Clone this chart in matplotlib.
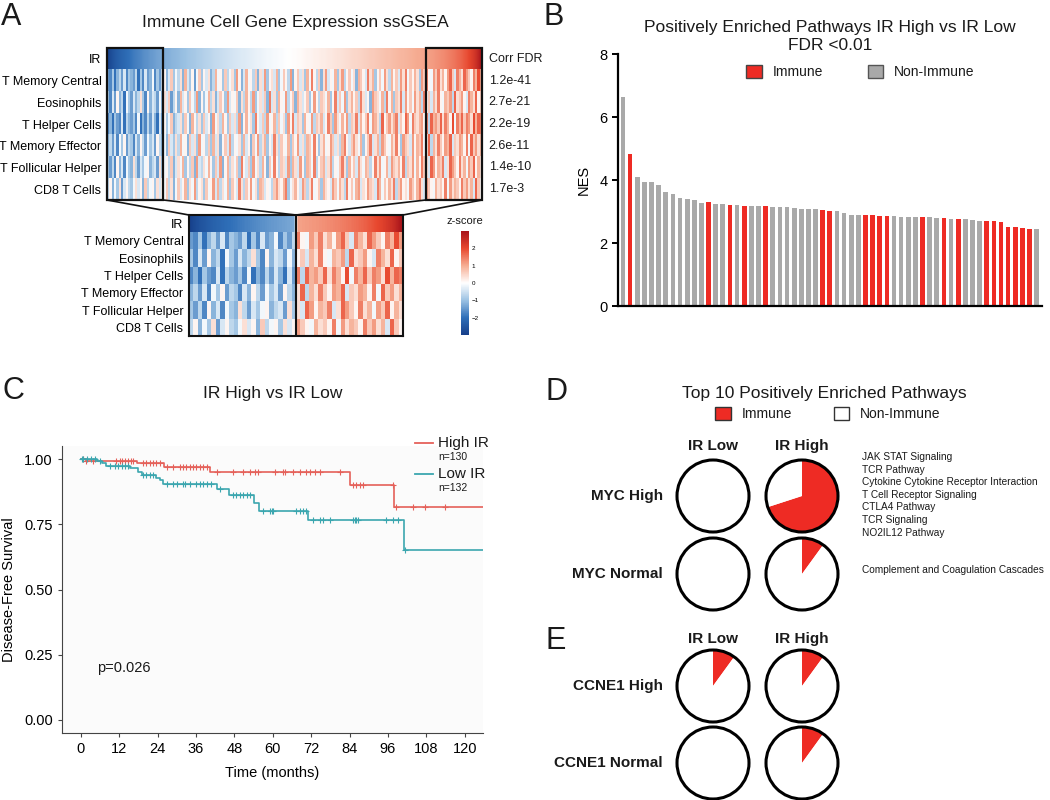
import matplotlib
matplotlib.use("Agg")
import matplotlib.pyplot as plt
import numpy as np
from matplotlib.colors import LinearSegmentedColormap
from matplotlib.patches import Rectangle, Circle, Patch, ConnectionPatch

plt.rcParams['font.family'] = ['Liberation Sans', 'DejaVu Sans']
plt.rcParams['text.color'] = '#1a1a1a'

W, H = 1050, 800   # output size in pixels (dpi 100)

RED = '#EE2B24'
GRAY = '#A9A9A9'

# ---------------- A: ssGSEA heatmap ----------------
cell_types = ["IR", "T Memory Central", "Eosinophils", "T Helper Cells",
              "T Memory Effector", "T Follicular Helper", "CD8 T Cells"]
corr_fdr = ["Corr FDR", "1.2e-41", "2.7e-21", "2.2e-19", "2.6e-11", "1.4e-10", "1.7e-3"]
# IR score of each sample, samples sorted by it
ir_score = [
    -2.90, -2.72, -2.58, -2.46, -2.36, -2.27, -2.19, -2.11, -2.04, -1.97, -1.91, -1.85, -1.79, -1.74, -1.69, -1.64,
    -1.59, -1.55, -1.50, -1.46, -1.42, -1.38, -1.34, -1.30, -1.26, -1.23, -1.20, -1.17, -1.14, -1.11, -1.08, -1.05,
    -1.02, -0.99, -0.96, -0.93, -0.90, -0.87, -0.84, -0.81, -0.78, -0.75, -0.72, -0.69, -0.66, -0.63, -0.60, -0.58,
    -0.56, -0.53, -0.51, -0.48, -0.46, -0.44, -0.41, -0.39, -0.37, -0.35, -0.33, -0.31, -0.29, -0.27, -0.25, -0.23,
    -0.21, -0.19, -0.17, -0.16, -0.14, -0.12, -0.11, -0.09, -0.08, -0.06, -0.05, -0.03, -0.02, 0.00, 0.01, 0.03,
    0.04, 0.06, 0.07, 0.09, 0.10, 0.12, 0.13, 0.15, 0.17, 0.18, 0.20, 0.22, 0.23, 0.25, 0.27, 0.28,
    0.30, 0.32, 0.34, 0.35, 0.37, 0.39, 0.41, 0.43, 0.45, 0.47, 0.49, 0.51, 0.53, 0.55, 0.57, 0.59,
    0.61, 0.63, 0.65, 0.67, 0.69, 0.71, 0.73, 0.75, 0.77, 0.79, 0.81, 0.83, 0.85, 0.87, 0.89, 0.91,
    0.93, 0.95, 0.97, 0.99, 1.01, 1.03, 1.05, 1.07, 1.10, 1.13, 1.16, 1.19, 1.22, 1.25, 1.29, 1.33,
    1.37, 1.41, 1.46, 1.51, 1.56, 1.62, 1.68, 1.75, 1.83, 1.92, 2.02, 2.14, 2.28, 2.45, 2.66, 2.95,
]
# immune scores, one character per sample: '0' = lowest z ... 'j' = highest z
ZCODES = "0123456789abcdefghij"
score_rows = [
    "4362574836 5472638459 3647a58c69 7b5d86a49c 6a8b57d9a6 c79b6ea58d 9a7c5b8e6a b8d69ca7e5 "
    "ac8b6d9fa7 c5be8a9d6b e7ac9b5dca 8fbd6ac9eb 7dac8ebf9c adb6ecfa9e cfbdaegc8f dbgecafdhe",
    "6384a57296 4857b63a58 7495b8c47a 5d8a6c97e5 a69d7b58ca 6e8a9c5b7d a7e69b8c5f 8b6da9e7ac "
    "5db8ac69ea 7cb9d6af8c 9e6bdac7fb 8a5ecb9d7f ad6cbf8eac 9ebd7fac8d bfa9dce7gb cea8fdbgac",
    "3526438275 4639253748 5284a69c57 8b6c95da7b 6c8a5e9b7d a6c8b7e5ad 9b6fa8c7e9 ad7c9b6eaf "
    "8cb6da9e7c bd8afc6eb9 dae7cbf8da cf9edb7gac ebdf8cage9 fcbdeaf7gd ecgbfdah9f dgcfebhdgf",
    "5748396a47 6385a74968 4a7595c86b 7d9a5c8b6e 9a7c6d8b5a c8e7a9b6d8 a5c9e7bd6a 8fb7ca9d6c "
    "ae8b7dc9fa 6bd9aec8b7 dfa8ceb9d6 acf8bd7eca 9dbfa6ecb8 eadcf9bg7d bfcaedg8cb edaf9gcebd",
    "6473a58396 5b74869a57 84b69a7c58 b9d6a7c5e8 7b9da6c8e5 ad7b9c6fa8 c6e9b7da5c 9fa7cb8e6d "
    "b8ea6dc9f7 acd8be7a9c fb6dac8eb9 dc7afbe9ad 8ecbdaf7cb e9dafcb8ge adcf8bgeca fbd9ecgadb",
    "7a596b48a7 69b8a5c79a 6b8a9c7b59 c8ad6b9e7a b6c9ae8d7b 9d6ca8fb7c ae9b6dc8a9 7cebadf69b "
    "da8ec7bf9a c6dba8ec9d b7fac9de8b aecb8fd9ca dbf7ceab9e cadfb8eca9 dbcaf9ebdc afcebd8gca",
]
box_width = 24   # samples in each boxed extreme group

# ---------------- B: GSEA bars ----------------
nes = [6.63, 4.84, 4.09, 3.95, 3.93, 3.83, 3.61, 3.54, 3.42, 3.39,
       3.35, 3.28, 3.29, 3.25, 3.24, 3.21, 3.21, 3.19, 3.17, 3.17,
       3.16, 3.14, 3.14, 3.14, 3.11, 3.09, 3.09, 3.07, 3.05, 3.02,
       3.02, 2.94, 2.90, 2.90, 2.89, 2.88, 2.86, 2.86, 2.85, 2.84,
       2.84, 2.84, 2.81, 2.81, 2.80, 2.79, 2.77, 2.77, 2.77, 2.74,
       2.70, 2.70, 2.70, 2.67, 2.52, 2.50, 2.49, 2.46, 2.45]
immune_flags = "0100000000 0010010100 1000000011 0000111100 0010010100 011111110"

# ---------------- C: Kaplan-Meier ----------------
high_times = [0, 1.5, 17.4, 26.0, 40.5, 84.0, 98.0]
high_surv = [1.0, 0.992, 0.984, 0.968, 0.951, 0.902, 0.818]
high_censor = [0.7, 1.6, 3.9, 11.1, 12.2, 13.0, 13.8, 14.8, 15.8, 16.4, 19.5, 20.5, 21.6,
               22.6, 23.6, 24.7, 26.8, 28.9, 30.9, 32.0, 33.0, 34.0, 35.1, 36.1, 37.2,
               38.2, 39.3, 42.4, 47.6, 50.7, 52.8, 54.4, 55.4, 60.6, 63.2, 63.8, 66.4,
               68.4, 70.5, 71.6, 73.1, 74.7, 80.9, 85.1, 86.1, 87.2, 88.2, 97.6, 98.6,
               103.9, 107.5, 113.8]
low_times = [0, 4.9, 6.5, 8.0, 15.3, 17.9, 19.0, 23.6, 24.7, 25.7, 42.6, 46.4, 54.1,
             55.7, 71.1, 100.9]
low_surv = [1.0, 0.992, 0.984, 0.975, 0.964, 0.952, 0.937, 0.928, 0.918, 0.905, 0.885,
            0.861, 0.831, 0.800, 0.765, 0.653]
low_censor = [0.3, 0.7, 1.8, 3.3, 4.4, 5.9, 9.1, 10.6, 11.7, 12.7, 13.8, 14.8, 19.5, 20.5,
              21.6, 22.6, 26.8, 28.9, 29.9, 32.0, 32.5, 34.1, 36.1, 37.2, 38.2, 39.3,
              40.8, 43.4, 47.6, 48.6, 49.7, 50.7, 51.8, 52.8, 57.0, 59.0, 59.6, 60.1,
              67.4, 68.4, 69.5, 70.5, 72.6, 74.7, 75.7, 77.8, 85.1, 85.6, 86.1, 86.7,
              95.5, 97.6, 99.2, 101.3]
p_value = "p=0.026"

# ---------------- D / E: top-10 pies ----------------
ir_groups = ["IR Low", "IR High"]
pie_rows = ["MYC High", "MYC Normal", "CCNE1 High", "CCNE1 Normal"]
immune_counts = {"IR Low": [0, 0, 1, 0], "IR High": [7, 1, 1, 1]}
top_n = 10
myc_high_pathways = ["JAK STAT Signaling", "TCR Pathway",
                     "Cytokine Cytokine Receptor Interaction", "T Cell Receptor Signaling",
                     "CTLA4 Pathway", "TCR Signaling", "NO2IL12 Pathway"]
myc_normal_pathways = ["Complement and Coagulation Cascades"]


def px_axes(x0, y0, x1, y1):
    return fig.add_axes([x0 / W, 1 - y1 / H, (x1 - x0) / W, (y1 - y0) / H])


def px_text(x, y, s, **kw):
    return fig.text(x / W, 1 - y / H, s, **kw)


def draw_heat(ax, ir, rows):
    # IR row is a smooth ramp, the score rows are per-sample stripes
    n = rows.shape[1]
    ax.imshow(ir[None, :], cmap=cmap, vmin=-3, vmax=3, aspect='auto',
              interpolation='bilinear', extent=(-0.5, n - 0.5, 0.5, -0.5))
    img = ax.imshow(rows, cmap=cmap, vmin=-3, vmax=3, aspect='auto',
                    interpolation='nearest', extent=(-0.5, n - 0.5, len(rows) + 0.5, 0.5))
    ax.set_xlim(-0.5, n - 0.5)
    ax.set_ylim(len(rows) + 0.5, -0.5)
    ax.set_xticks([])
    ax.set_yticks(range(len(cell_types)))
    ax.set_yticklabels(cell_types, fontsize=9)
    ax.tick_params(length=0, pad=4)
    return img


fig = plt.figure(figsize=(W / 100, H / 100), dpi=100)

for lab, x, y in [("A", 1, 25), ("B", 544, 25), ("C", 2, 399), ("D", 545, 400), ("E", 545, 649)]:
    px_text(x, y, lab, fontsize=22, va='baseline')

# ---- A ----
cmap = LinearSegmentedColormap.from_list(
    "zs", ['#163f8a', '#2f6fb8', '#9cc2e3', '#ffffff', '#f6ad93', '#e8482f', '#a8141b'])
ir = np.array(ir_score)
z = np.array([[(ZCODES.index(c) - 9.5) * 0.26 for c in "".join(r.split())] for r in score_rows])
n_samp = z.shape[1]

px_text(295, 27, "Immune Cell Gene Expression ssGSEA", fontsize=12.5, ha='center', va='baseline')
ax_top = px_axes(107, 48, 482, 200)
im = draw_heat(ax_top, ir, z)
for s in ax_top.spines.values():
    s.set_visible(False)
for i, lab in enumerate(corr_fdr):
    ax_top.text(1.018, i, lab, transform=ax_top.get_yaxis_transform(), fontsize=9, va='center')
for x0 in (-0.5, n_samp - box_width - 0.5):
    ax_top.add_patch(Rectangle((x0, -0.5), box_width, len(cell_types), fill=False,
                               lw=1.6, ec='#111', clip_on=False))

keep = np.r_[0:box_width, n_samp - box_width:n_samp]
ax_low = px_axes(189, 215, 403, 336)
draw_heat(ax_low, ir[keep], z[:, keep])
ax_low.axvline(box_width - 0.5, color='#111', lw=1.5)
for s in ax_low.spines.values():
    s.set_linewidth(1.5)
    s.set_color('#111')

bottom = len(cell_types) - 0.5
for xa, xb in [(-0.5, -0.5), (box_width - 0.5, box_width - 0.5),
               (n_samp - box_width - 0.5, box_width - 0.5), (n_samp - 0.5, 2 * box_width - 0.5)]:
    fig.add_artist(ConnectionPatch(xyA=(xa, bottom), coordsA=ax_top.transData,
                                   xyB=(xb, -0.5), coordsB=ax_low.transData,
                                   color='#111', lw=1.2))

cax = px_axes(461, 231, 469, 335)
cb = fig.colorbar(im, cax=cax, ticks=[-2, -1, 0, 1, 2])
cb.outline.set_visible(False)
cax.tick_params(labelsize=4.5, length=0, pad=2)
px_text(465, 224, "z-score", fontsize=8, ha='center', va='baseline')

# ---- B ----
flags = [c == "1" for c in "".join(immune_flags.split())]
ax_b = px_axes(618, 54, 1042, 306)
xb = np.arange(len(nes))
ax_b.bar(xb, nes, width=0.66, color=[RED if f else GRAY for f in flags])
ax_b.set_xlim(-0.7, len(nes) - 0.25)
ax_b.set_ylim(0, 8)
ax_b.set_yticks([0, 2, 4, 6, 8])
ax_b.set_xticks([])
for s in ("top", "right"):
    ax_b.spines[s].set_visible(False)
for s in ("left", "bottom"):
    ax_b.spines[s].set_linewidth(1.6)
ax_b.tick_params(axis='y', length=4, width=1.4, labelsize=10.5)
ax_b.set_ylabel("NES", fontsize=10.5, labelpad=6)
ax_b.set_title("Positively Enriched Pathways IR High vs IR Low\nFDR <0.01", fontsize=12.5, pad=3)
ax_b.legend([Patch(facecolor=RED, edgecolor='#444'), Patch(facecolor=GRAY, edgecolor='#555')],
            ["Immune", "Non-Immune"], loc='center', bbox_to_anchor=(0.572, 0.928), ncol=2,
            frameon=False, fontsize=10, handlelength=1.1, handleheight=1.1,
            columnspacing=3.2, handletextpad=0.8)

# ---- C ----
px_text(273, 398, "IR High vs IR Low", fontsize=12.5, ha='center', va='baseline')
ax_c = px_axes(62, 446, 483, 733)
ax_c.set_facecolor('#fbfbfb')
x_end = 125.7
for times, surv, cens, col in [(high_times, high_surv, high_censor, '#E5615A'),
                               (low_times, low_surv, low_censor, '#3BA6AF')]:
    t = np.array(times)
    s = np.array(surv)
    ax_c.step(np.r_[t, x_end], np.r_[s, s[-1]], where='post', color=col, lw=1.2)
    cy = s[np.searchsorted(t, cens, side='right') - 1]
    ax_c.plot(cens, cy, '+', color=col, ms=4, mew=0.8)
ax_c.set_xlim(-5.9, x_end)
ax_c.set_ylim(-0.05, 1.05)
ax_c.set_xticks(range(0, 121, 12))
ax_c.set_yticks([0, 0.25, 0.5, 0.75, 1.0])
ax_c.set_yticklabels(["0.00", "0.25", "0.50", "0.75", "1.00"])
for s in ("top", "right"):
    ax_c.spines[s].set_visible(False)
for s in ("left", "bottom"):
    ax_c.spines[s].set_color('#444')
ax_c.tick_params(labelsize=10.5, length=3, color='#444')
ax_c.set_xlabel("Time (months)", fontsize=10.5, labelpad=7)
ax_c.set_ylabel("Disease-Free Survival", fontsize=10.5, labelpad=6)
ax_c.text(0.083, 0.226, p_value, transform=ax_c.transAxes, fontsize=10.5, va='center')
for yl, yn, lab, n, col in [(1.010, 0.962, "High IR", "n=130", '#E5615A'),
                            (0.902, 0.854, "Low IR", "n=132", '#3BA6AF')]:
    ax_c.plot([0.838, 0.881], [yl, yl], color=col, lw=1.3, transform=ax_c.transAxes, clip_on=False)
    ax_c.text(0.893, yl, lab, transform=ax_c.transAxes, fontsize=11, va='center')
    ax_c.text(0.893, yn, n, transform=ax_c.transAxes, fontsize=7.5, va='center')

# ---- D / E ----
px_text(824, 398, "Top 10 Positively Enriched Pathways", fontsize=12.5, ha='center', va='baseline')
fig.legend([Patch(facecolor=RED, edgecolor='#333'), Patch(facecolor='white', edgecolor='#333')],
           ["Immune", "Non-Immune"], loc='center', bbox_to_anchor=(828 / W, 1 - 414 / H), ncol=2,
           frameon=False, fontsize=10, handlelength=1.1, handleheight=1.1,
           columnspacing=3.0, handletextpad=0.8)

col_x = [713, 802]
row_y = [496, 574, 686, 763]
header_y = [446, 639]
r_px = 36
for hy in header_y:
    for cx, g in zip(col_x, ir_groups):
        px_text(cx, hy, g, fontsize=11, fontweight='bold', ha='center', va='center')
for r, (row, cy) in enumerate(zip(pie_rows, row_y)):
    px_text(663, cy, row, fontsize=11, fontweight='bold', ha='right', va='center')
    for cx, g in zip(col_x, ir_groups):
        k = immune_counts[g][r]
        axp = px_axes(cx - 40, cy - 40, cx + 40, cy + 40)
        axp.pie([k, top_n - k], colors=[RED, 'white'], startangle=90, counterclock=False,
                radius=1, wedgeprops=dict(linewidth=0))
        axp.add_patch(Circle((0, 0), 1, fill=False, lw=2.2, ec='black'))
        axp.set_xlim(-40 / r_px, 40 / r_px)
        axp.set_ylim(-40 / r_px, 40 / r_px)
        axp.set_aspect('equal')
        axp.axis('off')

for i, p in enumerate(myc_high_pathways):
    px_text(862, 457 + i * 12.6, p, fontsize=7.3, va='center')
for i, p in enumerate(myc_normal_pathways):
    px_text(862, 570 + i * 12.6, p, fontsize=7.3, va='center')

fig.savefig("out.png", dpi=100)
